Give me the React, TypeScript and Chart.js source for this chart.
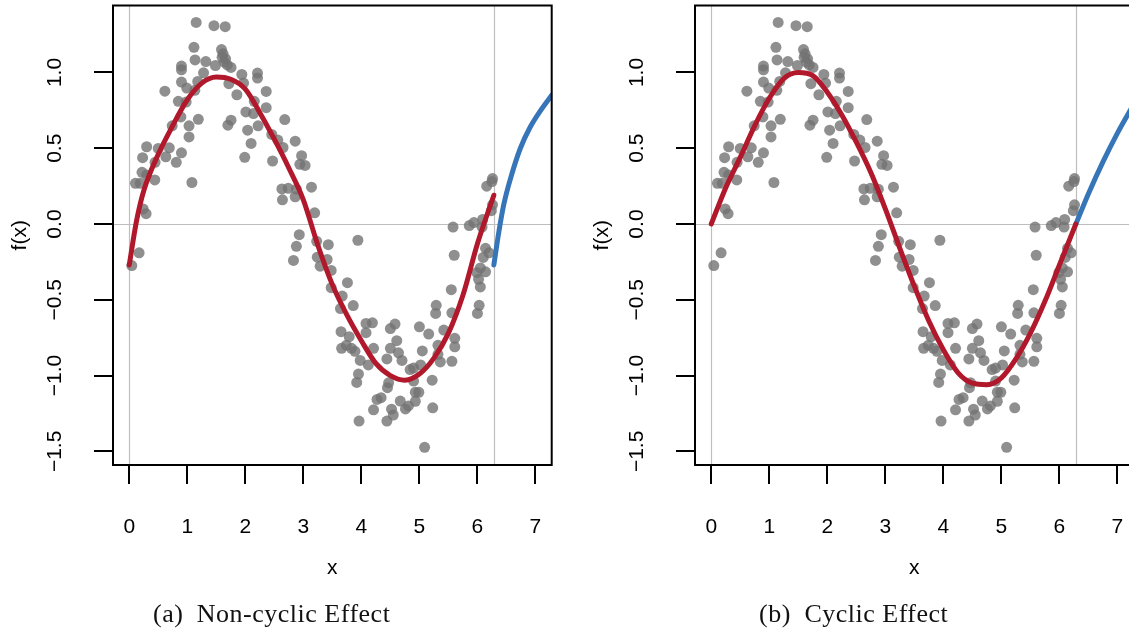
import { useEffect, useRef } from "react";
import { Chart, registerables } from "chart.js";

Chart.register(...registerables);

// ---------- data ----------
// observed points [x, f(x)], grouped by region of the plot
const obsRise: [number, number][] = [
  [0.044, -0.274], [0.17, -0.19], [0.24, 0.10], [0.29, 0.068], [0.107, 0.269], [0.19, 0.269],
  [0.22, 0.341], [0.30, 0.324], [0.44, 0.291], [0.23, 0.438], [0.445, 0.407], [0.30, 0.51],
  [0.50, 0.499], [0.69, 0.503], [0.63, 0.444], [0.81, 0.407], [0.90, 0.47], [0.614, 0.877],
  [0.74, 0.648], [0.846, 0.81], [0.89, 0.707], [0.90, 0.937], [0.90, 1.018], [0.90, 1.042],
  [0.98, 0.805], [0.99, 0.897], [1.03, 0.648], [1.03, 0.575], [1.08, 0.274],
];
const obsPeak: [number, number][] = [
  [1.153, 1.330], [1.46, 1.309], [1.654, 1.302], [1.115, 1.166], [1.59, 1.151], [1.617, 1.123],
  [1.134, 1.083], [1.32, 1.072], [1.485, 1.046], [1.64, 1.068], [1.754, 1.033], [1.60, 1.10],
  [1.66, 1.09], [1.69, 1.05], [1.28, 0.998], [1.18, 0.941], [1.13, 0.882], [1.717, 0.926],
  [1.855, 0.853], [1.94, 0.987], [1.97, 0.930], [1.19, 0.691], [1.754, 0.685], [1.70, 0.652],
  [2.21, 0.996], [2.21, 0.963], [2.36, 0.875], [2.155, 0.81], [2.01, 0.74], [2.36, 0.768],
  [2.14, 0.729], [2.22, 0.648], [2.04, 0.619], [2.10, 0.532], [1.99, 0.44],
];
const obsFall: [number, number][] = [
  [2.68, 0.689], [2.456, 0.591], [2.56, 0.554], [2.86, 0.547], [2.65, 0.505], [2.97, 0.451],
  [2.47, 0.416], [2.94, 0.394], [3.03, 0.387], [2.63, 0.232], [2.74, 0.236], [3.14, 0.243],
  [2.64, 0.16], [2.86, 0.18], [2.88, 0.23], [3.195, 0.074], [2.93, -0.07], [2.88, -0.147],
  [3.23, -0.114], [3.43, -0.136], [2.83, -0.24], [3.24, -0.219], [3.29, -0.278], [3.41, -0.234],
  [3.48, -0.306], [3.76, -0.387], [3.48, -0.42], [3.67, -0.475], [3.94, -0.107],
];
const obsTrough: [number, number][] = [
  [3.64, -0.558], [3.86, -0.538], [3.65, -0.71], [3.79, -0.743], [3.74, -0.80], [3.66, -0.82],
  [3.83, -0.82], [3.89, -0.84], [4.08, -0.656], [4.19, -0.652], [4.08, -0.717], [4.21, -0.82],
  [3.98, -0.90], [4.12, -0.93], [3.95, -0.99], [3.92, -1.045], [4.58, -0.66], [4.50, -0.69],
  [4.61, -0.77], [4.50, -0.82], [4.64, -0.85], [4.70, -0.90], [4.44, -0.89], [4.47, -1.048],
  [4.45, -1.08], [4.27, -1.157], [4.34, -1.146], [4.21, -1.226], [4.52, -1.222], [4.55, -1.26],
  [4.44, -1.30], [3.96, -1.30], [4.67, -1.168], [4.81, -1.2], [4.84, -0.96], [4.90, -0.95],
  [5.02, -0.93], [4.90, -1.036], [4.93, -1.11], [4.99, -1.11], [4.76, -1.22], [4.93, -1.17],
  [5.22, -1.03], [5.23, -1.213], [5.09, -1.473],
];
const obsRecover: [number, number][] = [
  [5.0, -0.678], [5.16, -0.726], [5.42, -0.70], [5.61, -0.754], [5.61, -0.81], [5.32, -0.80],
  [5.05, -0.837], [5.32, -0.86], [5.36, -0.91], [5.56, -0.906], [5.29, -0.536], [5.28, -0.59],
  [5.56, -0.586], [5.55, -0.433], [6.03, -0.536], [6.00, -0.59], [5.58, -0.02], [5.60, -0.206],
  [5.86, -0.01], [5.94, 0.01], [6.09, 0.03], [6.08, -0.02], [6.25, 0.28], [6.16, 0.25],
  [6.26, 0.30], [6.26, 0.127], [6.24, 0.088], [6.2, -0.19], [6.14, -0.16], [6.05, -0.29],
  [5.99, -0.32], [6.02, -0.365], [6.05, -0.415], [6.14, -0.315], [6.1, -0.22],
];

// fitted smooth, panel (a): non-cyclic
const fitAX = [0, 0.125, 0.25, 0.5, 0.75, 1.0, 1.25, 1.5, 1.75, 2.0, 2.25, 2.5, 2.75, 3.0, 3.25, 3.5, 3.75, 4.0, 4.25, 4.5, 4.75, 5.0, 5.25, 5.5, 5.75, 6.0, 6.283];
const fitAY = [-0.27, 0.02, 0.22, 0.46, 0.65, 0.82, 0.93, 0.97, 0.955, 0.89, 0.735, 0.56, 0.37, 0.16, -0.14, -0.40, -0.60, -0.77, -0.92, -1.0, -1.03, -0.99, -0.885, -0.72, -0.47, -0.13, 0.19];
const extAX = [6.283, 6.37, 6.455, 6.57, 6.74, 6.91, 7.09, 7.28];
const extAY = [-0.27, -0.05, 0.13, 0.30, 0.50, 0.64, 0.75, 0.85];

// fitted smooth, panel (b): cyclic
const fitBX = [0, 0.25, 0.5, 0.75, 1.0, 1.25, 1.5, 1.75, 2.0, 2.25, 2.5, 2.75, 3.0, 3.25, 3.5, 3.75, 4.0, 4.25, 4.5, 4.75, 5.0, 5.25, 5.5, 5.75, 6.0, 6.283];
const fitBY = [0, 0.24, 0.44, 0.65, 0.83, 0.96, 1.0, 0.98, 0.87, 0.72, 0.54, 0.34, 0.1, -0.16, -0.41, -0.64, -0.83, -0.98, -1.05, -1.06, -1.015, -0.89, -0.72, -0.51, -0.27, 0];
const extBX = [6.283, 6.5, 6.75, 7.0, 7.28];
const extBY = [0, 0.2, 0.41, 0.6, 0.79];

// axes
const xTicks = [0, 1, 2, 3, 4, 5, 6, 7];
const xTickLabels = ["0", "1", "2", "3", "4", "5", "6", "7"];
const yTicks = [-1.5, -1.0, -0.5, 0, 0.5, 1.0];
const yTickLabels = ["\u22121.5", "\u22121.0", "\u22120.5", "0.0", "0.5", "1.0"];
const refX = [0, 6.283];
const refY = [0];
const X_MIN = -0.28;
const X_MAX = 7.28;
const Y_MIN = -1.59;
const Y_MAX = 1.442;

const captions = ["(a)\u2002Non-cyclic Effect", "(b)\u2002Cyclic Effect"];

// ---------- styling ----------
const SANS = "'Liberation Sans', Arial, Helvetica, sans-serif";
const CW = 560;
const CH = 600;
const PANEL_OFFSET = 582;
const POINT_COLOR = "rgba(115,115,115,0.8)";
const RED = "#B2182B";
const BLUE = "#3676B8";

const allObs = [...obsRise, ...obsPeak, ...obsFall, ...obsTrough, ...obsRecover];

const decor = {
  id: "decor",
  beforeDatasetsDraw(chart: any) {
    const { ctx, chartArea: a, scales } = chart;
    ctx.save();
    ctx.strokeStyle = "#BEBEBE";
    ctx.lineWidth = 1.2;
    refX.forEach((v) => {
      const px = Math.round(scales.x.getPixelForValue(v)) + 0.5;
      ctx.beginPath();
      ctx.moveTo(px, a.top);
      ctx.lineTo(px, a.bottom);
      ctx.stroke();
    });
    refY.forEach((v) => {
      const py = Math.round(scales.y.getPixelForValue(v)) + 0.5;
      ctx.beginPath();
      ctx.moveTo(a.left, py);
      ctx.lineTo(a.right, py);
      ctx.stroke();
    });
    ctx.restore();
  },
  afterDatasetsDraw(chart: any) {
    const { ctx, chartArea: a } = chart;
    ctx.save();
    ctx.strokeStyle = "#000";
    ctx.lineWidth = 2;
    ctx.strokeRect(a.left, a.top, a.right - a.left, a.bottom - a.top);
    ctx.restore();
  },
};

function zeroPad(s: any) {
  s.paddingTop = 0;
  s.paddingBottom = 0;
  s.paddingLeft = 0;
  s.paddingRight = 0;
}

function Panel(props: { fitX: number[]; fitY: number[]; extX: number[]; extY: number[]; left: number }) {
  const ref = useRef<HTMLCanvasElement>(null);
  useEffect(() => {
    const { fitX, fitY, extX, extY } = props;
    const font = { family: SANS, size: 21 };
    const chart = new Chart(ref.current as HTMLCanvasElement, {
      type: "line",
      data: {
        datasets: [
          {
            data: fitX.map((x, i) => ({ x, y: fitY[i] })),
            borderColor: RED,
            borderWidth: 5,
            borderCapStyle: "round",
            pointRadius: 0,
            cubicInterpolationMode: "monotone",
            fill: false,
            order: 1,
          } as any,
          {
            data: extX.map((x, i) => ({ x, y: extY[i] })),
            borderColor: BLUE,
            borderWidth: 5,
            borderCapStyle: "round",
            pointRadius: 0,
            cubicInterpolationMode: "monotone",
            fill: false,
            order: 1,
          } as any,
          {
            data: allObs.map(([x, y]) => ({ x, y })),
            showLine: false,
            pointRadius: 5.5,
            pointHoverRadius: 5.5,
            pointBorderWidth: 0,
            pointBackgroundColor: POINT_COLOR,
            backgroundColor: POINT_COLOR,
            borderColor: "rgba(0,0,0,0)",
            order: 2,
          } as any,
        ],
      },
      options: {
        responsive: false,
        animation: false,
        devicePixelRatio: 1,
        events: [],
        layout: { padding: { left: 0, right: 8.3, top: 3, bottom: 0 } },
        plugins: { legend: { display: false }, tooltip: { enabled: false }, title: { display: false } },
        scales: {
          x: {
            type: "linear",
            min: X_MIN,
            max: X_MAX,
            afterBuildTicks: (s: any) => {
              s.ticks = xTicks.map((v) => ({ value: v }));
            },
            afterFit: (s: any) => {
              s.height = CH - 465;
              zeroPad(s);
            },
            grid: { display: true, drawOnChartArea: false, drawTicks: true, tickLength: 19, color: "#000", lineWidth: 2 },
            border: { display: false },
            ticks: {
              autoSkip: false,
              minRotation: 0,
              maxRotation: 0,
              padding: 31,
              color: "#000",
              font,
              callback: (_v: any, i: number) => xTickLabels[i],
            },
            title: { display: true, text: "x", color: "#000", font, padding: { top: 0, bottom: 19.5 } },
          },
          y: {
            type: "linear",
            min: Y_MIN,
            max: Y_MAX,
            afterBuildTicks: (s: any) => {
              s.ticks = yTicks.map((v) => ({ value: v }));
            },
            afterFit: (s: any) => {
              s.width = 113;
              zeroPad(s);
            },
            grid: { display: true, drawOnChartArea: false, drawTicks: true, tickLength: 19, color: "#000", lineWidth: 2 },
            border: { display: false },
            ticks: {
              autoSkip: false,
              minRotation: 90,
              maxRotation: 90,
              crossAlign: "center",
              padding: 18.5,
              color: "#000",
              font,
              callback: (_v: any, i: number) => yTickLabels[i],
            },
            title: { display: true, text: "f(x)", color: "#000", font, padding: { top: 7.5, bottom: 0 } },
          },
        },
      } as any,
      plugins: [decor],
    });
    return () => chart.destroy();
  }, []);
  return (
    <canvas
      ref={ref}
      width={CW}
      height={CH}
      style={{ position: "absolute", left: props.left, top: 0, width: CW, height: CH }}
    />
  );
}

export default function App() {
  const capStyle = (center: number): any => ({
    position: "absolute",
    left: center - 200,
    top: 602,
    width: 400,
    textAlign: "center",
    fontFamily: "'Liberation Serif', 'Times New Roman', serif",
    fontSize: 26,
    lineHeight: "24px",
    letterSpacing: "0.5px",
    color: "#111",
    whiteSpace: "nowrap",
  });
  return (
    <div
      style={{
        position: "fixed",
        left: 0,
        top: 0,
        width: 1129,
        height: 639,
        overflow: "hidden",
        background: "#fff",
      }}
    >
      <Panel fitX={fitAX} fitY={fitAY} extX={extAX} extY={extAY} left={0} />
      <Panel fitX={fitBX} fitY={fitBY} extX={extBX} extY={extBY} left={PANEL_OFFSET} />
      <div style={capStyle(271.7)}>{captions[0]}</div>
      <div style={capStyle(271.7 + PANEL_OFFSET)}>{captions[1]}</div>
    </div>
  );
}
